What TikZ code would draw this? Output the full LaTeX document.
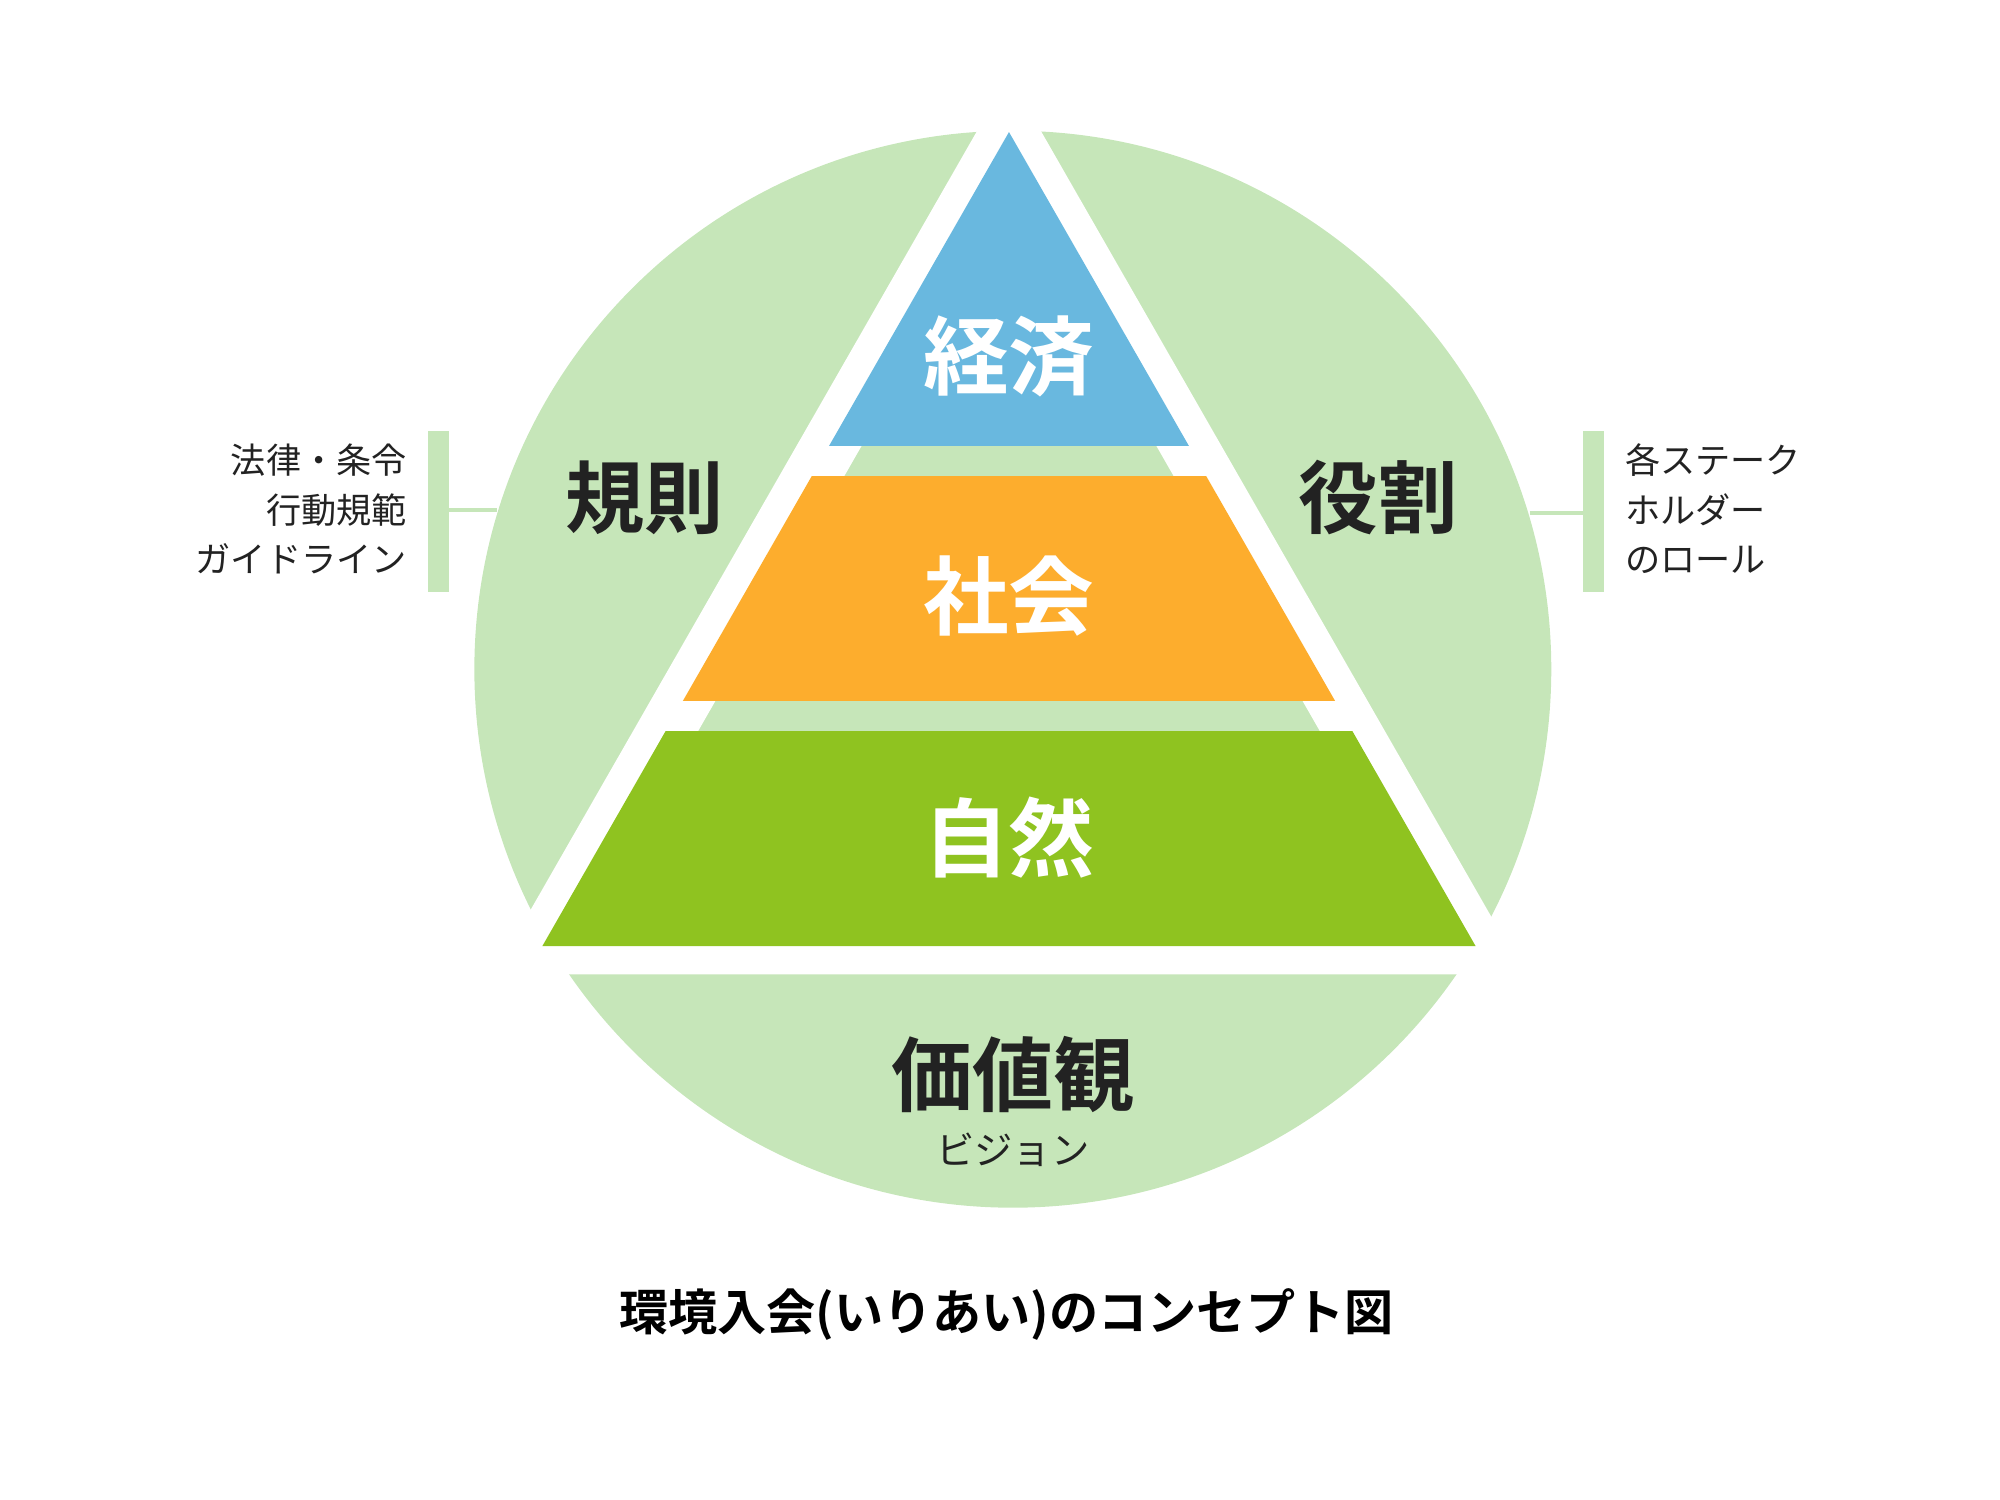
\documentclass[tikz,border=0pt]{standalone}
\usepackage{fontspec}
\setmainfont{Noto Sans CJK JP}[BoldFont={Noto Sans CJK JP Bold}]
\definecolor{circgreen}{HTML}{C6E6B9}
\definecolor{econblue}{HTML}{69B8DF}
\definecolor{socorange}{HTML}{FDAD2D}
\definecolor{natgreen}{HTML}{8FC320}
\definecolor{ink}{HTML}{222222}
\tikzset{
  bigword/.style={font=\fontsize{#1}{#1}\selectfont\bfseries, inner sep=0pt},
  sidenote/.style={font=\fontsize{7.8}{11}\selectfont, text=ink, inner sep=0pt, align=#1},
}

\begin{document}
\begin{tikzpicture}[x=0.01cm, y=-0.01cm]
\useasboundingbox (0,0) rectangle (1560,1170);

% Circulo
\fill[circgreen] (790,522) circle (420);

% Piramide com margem branca
\draw[white, line width=0.44cm, line join=miter] (787,103) -- (423,738) -- (1151,738) -- cycle;
\begin{scope}
  \clip (787,103) -- (423,738) -- (1151,738) -- cycle;
  \fill[econblue] (400,90) rectangle (1200,348);
  \fill[socorange] (400,371) rectangle (1200,547);
  \fill[natgreen] (400,570) rectangle (1200,740);
\end{scope}

% Textos da piramide
\node[bigword=19, text=white] (econ) at (787,278) {経済};
\node[bigword=19, text=white] (soc) at (787,465) {社会};
\node[bigword=19, text=white] (nat) at (787,653) {自然};

% Textos do circulo
\node[bigword=17.6, text=ink] (rules) at (503,388) {規則};
\node[bigword=17.6, text=ink] (roles) at (1075,388) {役割};
\node[bigword=18, text=ink] (values) at (790,838) {価値観};
\node[font=\fontsize{8.5}{10}\selectfont, text=ink, inner sep=0pt] (vision) at (790,897) {ビジョン};

% Chaves laterais
\fill[circgreen] (334,336) rectangle (350,462);
\coordinate (lbar) at (350,398);
\coordinate (ledge) at (388,398);
\draw[circgreen, line width=0.03cm] (lbar) -- (ledge);
\node[sidenote=right, anchor=east] (lnote) at (318,397) {法律・条令\\行動規範\\ガイドライン};

\fill[circgreen] (1235,336) rectangle (1251,462);
\coordinate (rbar) at (1235,400);
\coordinate (redge) at (1193,400);
\draw[circgreen, line width=0.03cm] (redge) -- (rbar);
\node[sidenote=left, anchor=west] (rnote) at (1267,397) {各ステーク\\ホルダー\\のロール};

% Titulo
\node[font=\fontsize{10.9}{12}\selectfont\bfseries, text=black, inner sep=0pt] (title) at (785,1025) {環境入会(いりあい)のコンセプト図};
\end{tikzpicture}
\end{document}
